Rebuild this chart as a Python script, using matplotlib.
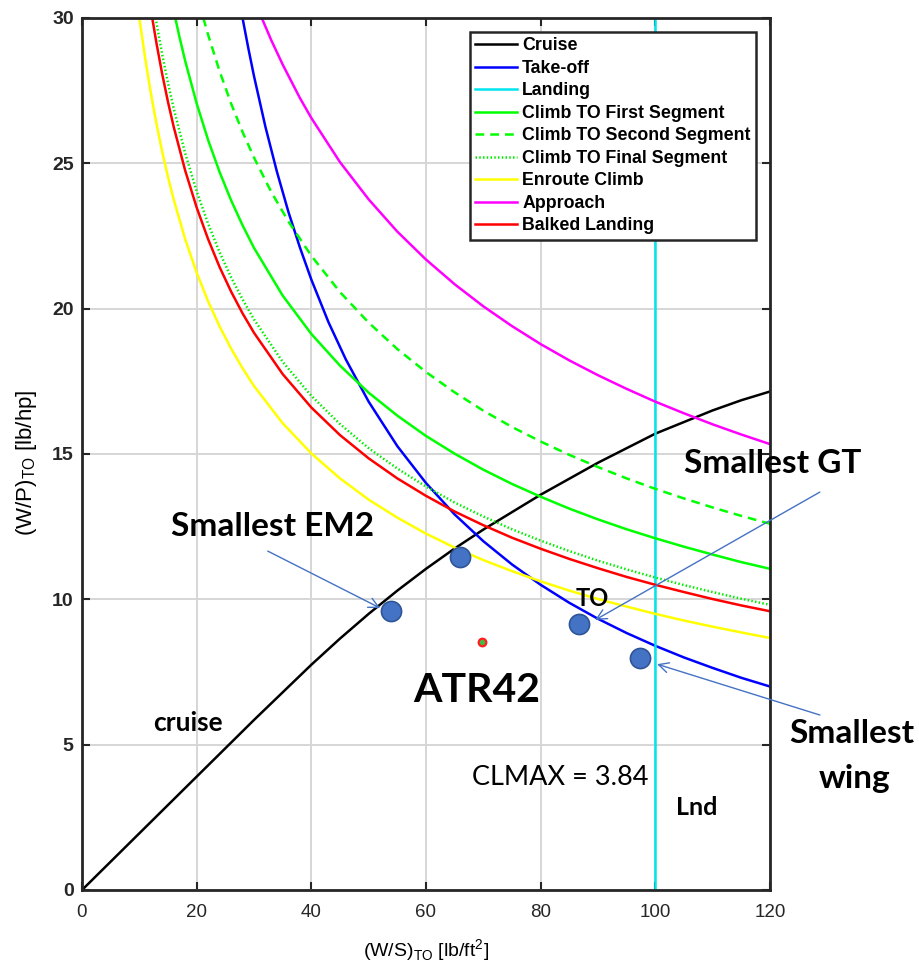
import numpy as np
import matplotlib
matplotlib.use("Agg")
import matplotlib.pyplot as plt

# ---- constraint curves: (W/S)_TO [lb/ft^2] vs (W/P)_TO [lb/hp] ----
cruise_ws = [0, 10, 20, 30, 40, 45, 50, 55, 60, 65, 70, 75, 80, 85, 90, 95, 100, 105, 110, 115, 120]
cruise_wp = [0, 1.95, 3.9, 5.85, 7.75, 8.65, 9.5, 10.3, 11.05, 11.75, 12.4, 13.0, 13.6, 14.15, 14.7,
             15.2, 15.7, 16.1, 16.5, 16.85, 17.15]

takeoff_ws = [28, 29, 30, 32, 34, 36, 38, 40, 43, 46, 50, 55, 60, 65, 70, 75, 80, 85, 90, 95, 100,
              105, 110, 115, 120]
takeoff_wp = [30.0, 28.97, 28.0, 26.25, 24.71, 23.33, 22.11, 21.0, 19.53, 18.26, 16.8, 15.27, 14.0,
              12.92, 12.0, 11.2, 10.5, 9.88, 9.33, 8.84, 8.4, 8.0, 7.64, 7.3, 7.0]

landing_ws = [100, 100]
landing_wp = [0, 30]

climb1_ws = [16.27, 17, 18, 20, 22, 24, 26, 28, 30, 35, 40, 45, 50, 55, 60, 65, 70, 75, 80, 85, 90,
             95, 100, 105, 110, 115, 120]
climb1_wp = [30.0, 29.35, 28.52, 27.06, 25.8, 24.7, 23.73, 22.87, 22.09, 20.45, 19.13, 18.04, 17.11,
             16.32, 15.62, 15.01, 14.46, 13.97, 13.53, 13.12, 12.75, 12.41, 12.1, 11.81, 11.54, 11.28,
             11.05]

climb2_ws = [21.16, 22, 24, 26, 28, 30, 33, 36, 40, 45, 50, 55, 60, 65, 70, 75, 80, 85, 90, 95, 100,
             105, 110, 115, 120]
climb2_wp = [30.0, 29.42, 28.17, 27.06, 26.08, 25.2, 24.02, 23.0, 21.82, 20.57, 19.52, 18.61, 17.82,
             17.12, 16.49, 15.93, 15.43, 14.97, 14.55, 14.16, 13.8, 13.47, 13.16, 12.87, 12.6]

final_ws = [12.84, 14, 15, 16, 18, 20, 22, 24, 26, 28, 30, 35, 40, 45, 50, 55, 60, 65, 70, 75, 80,
            85, 90, 95, 100, 105, 110, 115, 120]
final_wp = [30.0, 28.73, 27.76, 26.88, 25.34, 24.04, 22.92, 21.94, 21.08, 20.32, 19.63, 18.17, 17.0,
            16.03, 15.2, 14.5, 13.88, 13.33, 12.85, 12.41, 12.02, 11.66, 11.33, 11.03, 10.75, 10.49,
            10.25, 10.02, 9.81]

enroute_ws = [10, 11, 12, 13, 14, 15, 16, 18, 20, 22, 24, 26, 28, 30, 35, 40, 45, 50, 55, 60, 65, 70,
              75, 80, 85, 90, 95, 100, 105, 110, 115, 120]
enroute_wp = [30.0, 28.64, 27.42, 26.35, 25.39, 24.53, 23.75, 22.39, 21.24, 20.25, 19.39, 18.63, 17.95,
              17.34, 16.06, 15.02, 14.16, 13.43, 12.81, 12.26, 11.78, 11.35, 10.97, 10.62, 10.3, 10.01,
              9.75, 9.5, 9.27, 9.06, 8.86, 8.67]

approach_ws = [31.36, 33, 35, 38, 40, 45, 50, 55, 60, 65, 70, 75, 80, 85, 90, 95, 100, 105, 110, 115,
               120]
approach_wp = [30.0, 29.24, 28.4, 27.25, 26.56, 25.04, 23.76, 22.65, 21.69, 20.84, 20.08, 19.4, 18.78,
               18.22, 17.71, 17.24, 16.8, 16.4, 16.02, 15.67, 15.34]

balked_ws = [12.25, 13, 14, 15, 16, 18, 20, 22, 24, 26, 28, 30, 35, 40, 45, 50, 55, 60, 65, 70, 75,
             80, 85, 90, 95, 100, 105, 110, 115, 120]
balked_wp = [30.0, 29.12, 28.06, 27.11, 26.25, 24.75, 23.48, 22.39, 21.43, 20.59, 19.84, 19.17, 17.75,
             16.6, 15.65, 14.85, 14.16, 13.56, 13.02, 12.55, 12.12, 11.74, 11.39, 11.07, 10.77, 10.5,
             10.25, 10.01, 9.79, 9.59]

# ---- design points ----
design_ws = [53.9, 65.9, 86.7, 97.3]
design_wp = [9.6, 11.45, 9.15, 7.98]
atr42_ws = [69.8]
atr42_wp = [8.53]

x_ticks = [0, 20, 40, 60, 80, 100, 120]
y_ticks = [0, 5, 10, 15, 20, 25, 30]

fig = plt.figure(figsize=(9.2, 9.67), dpi=100)
ax = fig.add_axes([82 / 920, 1 - 890 / 967, 688 / 920, 872 / 967])

lw = 1.8
ax.plot(cruise_ws, cruise_wp, color="black", lw=lw, label="Cruise")
ax.plot(takeoff_ws, takeoff_wp, color="#0000ff", lw=lw, label="Take-off")
ax.plot(landing_ws, landing_wp, color="#00e5ee", lw=lw, label="Landing")
ax.plot(climb1_ws, climb1_wp, color="#00ff00", lw=lw, label="Climb TO First Segment")
ax.plot(climb2_ws, climb2_wp, color="#00ff00", lw=lw, dashes=(3.5, 2.4), label="Climb TO Second Segment")
ax.plot(final_ws, final_wp, color="#00ee00", lw=lw, dashes=(0.6, 0.9), label="Climb TO Final Segment")
ax.plot(enroute_ws, enroute_wp, color="#ffff00", lw=lw, label="Enroute Climb")
ax.plot(approach_ws, approach_wp, color="#ff00ff", lw=lw, label="Approach")
ax.plot(balked_ws, balked_wp, color="#ff0000", lw=lw, label="Balked Landing")

ax.plot(design_ws, design_wp, ls="none", marker="o", ms=14.5, mfc="#4472C4", mec="#2F5597",
        mew=1.2, zorder=5)
ax.plot(atr42_ws, atr42_wp, ls="none", marker="o", ms=5.5, mfc="#44bb44", mec="#ff2020",
        mew=1.6, zorder=5)

ax.set_xlim(0, 120)
ax.set_ylim(0, 30)
ax.set_xticks(x_ticks)
ax.set_yticks(y_ticks)
ax.grid(True, color="#d6d6d6", lw=1.4)
ax.set_axisbelow(True)
ax.tick_params(direction="in", length=6, width=1.5, top=True, right=True, colors="#262626")
for lab in ax.get_xticklabels():
    lab.set_fontsize(13.5)
    lab.set_family("Liberation Sans")
for lab in ax.get_yticklabels():
    lab.set_fontsize(14)
    lab.set_fontweight("bold")
    lab.set_family("Liberation Sans")
ax.tick_params(axis="x", pad=10)
ax.tick_params(axis="y", pad=6)
for s in ax.spines.values():
    s.set_linewidth(2.0)
    s.set_color("#262626")

ax.set_xlabel(r"(W/S)$_{\mathregular{TO}}$ [lb/ft$^{\mathregular{2}}$]", fontsize=14,
              family="Liberation Sans", labelpad=12)
ax.set_ylabel(r"(W/P)$_{\mathregular{TO}}$ [lb/hp]", fontsize=16, family="Liberation Sans")
ax.yaxis.set_label_coords(-0.062, 0.49)

leg = ax.legend(loc="upper left", bbox_to_anchor=(0.564, 0.984), borderaxespad=0,
                prop=dict(family="Liberation Sans", weight="bold", size=12.8),
                handlelength=2.35, handletextpad=0.28, labelspacing=0.31, borderpad=0.3,
                fancybox=False, framealpha=1)
leg.get_frame().set_edgecolor("#262626")
leg.get_frame().set_linewidth(1.8)

# ---- annotations ----
tfont = dict(family=["Lato", "DejaVu Sans"], fontweight="bold", color="black")
ax.text(33.3, 12.49, "Smallest EM2", ha="center", va="center", fontsize=24, **tfont)
ax.text(120.4, 14.69, "Smallest GT", ha="center", va="center", fontsize=24, clip_on=False, **tfont)
ax.text(89.0, 10.04, "TO", ha="center", va="center", fontsize=17, **tfont)
ax.text(68.9, 6.88, "ATR42", ha="center", va="center", fontsize=29.5, **tfont)
ax.text(18.5, 5.74, "cruise", ha="center", va="center", fontsize=19, **tfont)
ax.text(107.3, 2.85, "Lnd", ha="center", va="center", fontsize=18, **tfont)
ax.text(134.3, 5.06, "Smallest", ha="center", va="baseline", fontsize=24, clip_on=False, **tfont)
ax.text(134.8, 3.51, "wing", ha="center", va="baseline", fontsize=24, clip_on=False, **tfont)
ax.text(83.4, 3.87, "CLMAX = 3.84", ha="center", va="center", fontsize=19.5,
        family=["Lato", "DejaVu Sans"], color="black")

arrow = dict(arrowstyle="->", color="#4472C4", lw=1.0, mutation_scale=18, shrinkA=0, shrinkB=0)
ax.annotate("", xy=(52.0, 9.7), xytext=(32.4, 11.66), arrowprops=arrow, annotation_clip=False)
ax.annotate("", xy=(89.5, 9.29), xytext=(128.7, 13.69), arrowprops=arrow, annotation_clip=False)
ax.annotate("", xy=(100.3, 7.77), xytext=(128.7, 6.02), arrowprops=arrow, annotation_clip=False)

fig.savefig("out.png", dpi=100, facecolor="white")
